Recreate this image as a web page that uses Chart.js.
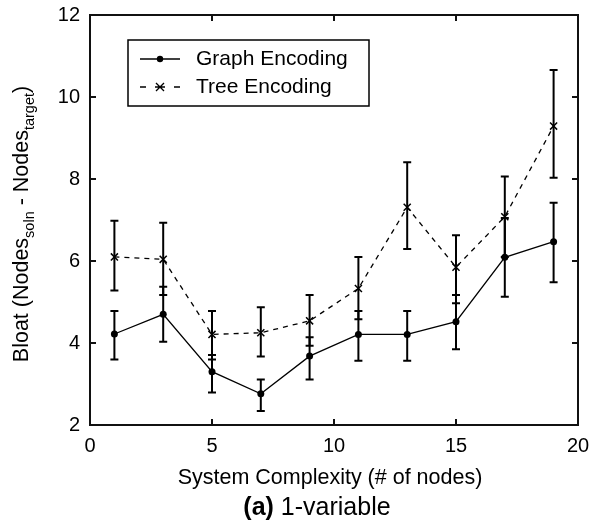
<!DOCTYPE html>
<html>
<head>
<meta charset="utf-8">
<script src="https://cdn.jsdelivr.net/npm/chart.js@4"></script>
<style>
html,body{margin:0;padding:0;background:#fff;}
#wrap{width:589px;height:527px;}
</style>
</head>
<body>
<div id="wrap"><canvas id="c" width="589" height="527"></canvas></div>
<script>
const complexity = [1, 3, 5, 7, 9, 11, 13, 15, 17, 19];
const graphMean = [4.22, 4.70, 3.30, 2.76, 3.68, 4.21, 4.21, 4.52, 6.09, 6.47];
const graphLow  = [3.60, 4.03, 2.79, 2.34, 3.11, 3.57, 3.57, 3.85, 5.13, 5.48];
const graphHigh = [4.78, 5.37, 3.71, 3.11, 4.14, 4.78, 4.78, 5.17, 7.05, 7.42];
const treeMean  = [6.10, 6.04, 4.21, 4.25, 4.54, 5.33, 7.31, 5.85, 7.08, 9.29];
const treeLow   = [5.28, 5.17, 3.60, 3.67, 3.93, 4.58, 6.29, 4.97, 6.10, 8.03];
const treeHigh  = [6.98, 6.93, 4.78, 4.87, 5.17, 6.10, 8.41, 6.63, 8.06, 10.66];
const xTicks = [0, 5, 10, 15, 20];
const yTicks = [2, 4, 6, 8, 10, 12];
const seriesNames = ['Graph Encoding', 'Tree Encoding'];
const xTitle = 'System Complexity (# of nodes)';
const captionBold = '(a)';
const captionRest = ' 1-variable';

const FONT = '"Liberation Sans", Arial, Helvetica, sans-serif';

const toPts = (ys) => complexity.map((x, i) => ({x: x, y: ys[i]}));

const deco = {
  id: 'deco',
  beforeDatasetsDraw(chart) {
    const ctx = chart.ctx, xs = chart.scales.x, ys = chart.scales.y;
    ctx.save();
    ctx.strokeStyle = '#000';
    ctx.lineWidth = 2;
    const cap = 4;
    [[graphLow, graphHigh], [treeLow, treeHigh]].forEach(([lo, hi]) => {
      complexity.forEach((x, i) => {
        const px = xs.getPixelForValue(x);
        const y1 = ys.getPixelForValue(lo[i]);
        const y2 = ys.getPixelForValue(hi[i]);
        ctx.beginPath();
        ctx.moveTo(px, y1); ctx.lineTo(px, y2);
        ctx.moveTo(px - cap, y1); ctx.lineTo(px + cap, y1);
        ctx.moveTo(px - cap, y2); ctx.lineTo(px + cap, y2);
        ctx.stroke();
      });
    });
    ctx.restore();
  },
  afterDraw(chart) {
    const ctx = chart.ctx, xs = chart.scales.x, ys = chart.scales.y;
    const a = chart.chartArea;
    ctx.save();
    // box
    ctx.strokeStyle = '#111';
    ctx.lineWidth = 2;
    ctx.strokeRect(a.left, a.top, a.right - a.left, a.bottom - a.top);
    // inward ticks
    const tl = 6;
    ctx.beginPath();
    xTicks.forEach(v => {
      const p = xs.getPixelForValue(v);
      ctx.moveTo(p, a.bottom); ctx.lineTo(p, a.bottom - tl);
      ctx.moveTo(p, a.top); ctx.lineTo(p, a.top + tl);
    });
    yTicks.forEach(v => {
      const p = ys.getPixelForValue(v);
      ctx.moveTo(a.left, p); ctx.lineTo(a.left + tl, p);
      ctx.moveTo(a.right, p); ctx.lineTo(a.right - tl, p);
    });
    ctx.stroke();

    // legend
    const lx = 128, ly = 40, lw = 241, lh = 66;
    ctx.fillStyle = '#fff';
    ctx.fillRect(lx, ly, lw, lh);
    ctx.lineWidth = 1.5;
    ctx.strokeStyle = '#000';
    ctx.strokeRect(lx, ly, lw, lh);
    const rows = [ly + 19, ly + 47];
    ctx.lineWidth = 1.3;
    ctx.beginPath(); ctx.moveTo(140, rows[0]); ctx.lineTo(180, rows[0]); ctx.stroke();
    ctx.fillStyle = '#000';
    ctx.beginPath(); ctx.arc(160, rows[0], 3.2, 0, Math.PI * 2); ctx.fill();
    ctx.beginPath();
    ctx.moveTo(140, rows[1]); ctx.lineTo(146, rows[1]);
    ctx.moveTo(174, rows[1]); ctx.lineTo(180, rows[1]);
    ctx.stroke();
    ctx.beginPath();
    ctx.moveTo(156, rows[1] - 4); ctx.lineTo(164, rows[1] + 4);
    ctx.moveTo(156, rows[1] + 4); ctx.lineTo(164, rows[1] - 4);
    ctx.moveTo(155, rows[1]); ctx.lineTo(165, rows[1]);
    ctx.stroke();
    ctx.font = '21px ' + FONT;
    ctx.textBaseline = 'middle';
    ctx.textAlign = 'left';
    ctx.fillStyle = '#000';
    ctx.fillText(seriesNames[0], 196, rows[0]);
    ctx.fillText(seriesNames[1], 196, rows[1]);

    // x title
    ctx.textAlign = 'center';
    ctx.font = '21.5px ' + FONT;
    ctx.fillText(xTitle, 330, 478);

    // caption
    const capSize = 25;
    ctx.font = 'bold ' + capSize + 'px ' + FONT;
    const wb = ctx.measureText(captionBold).width;
    ctx.font = capSize + 'px ' + FONT;
    const wr = ctx.measureText(captionRest).width;
    const cx0 = 317 - (wb + wr) / 2;
    ctx.textAlign = 'left';
    ctx.font = 'bold ' + capSize + 'px ' + FONT;
    ctx.fillText(captionBold, cx0, 508);
    ctx.font = capSize + 'px ' + FONT;
    ctx.fillText(captionRest, cx0 + wb, 508);

    // y title with subscripts
    const parts = [
      ['Bloat (Nodes', false], ['soln', true], [' - Nodes', false], ['target', true], [')', false]
    ];
    const mainF = '21.5px ' + FONT, subF = '14.5px ' + FONT;
    let total = 0;
    parts.forEach(([t, s]) => { ctx.font = s ? subF : mainF; total += ctx.measureText(t).width; });
    ctx.translate(22, 224);
    ctx.rotate(-Math.PI / 2);
    let cx = -total / 2;
    ctx.textBaseline = 'middle';
    parts.forEach(([t, s]) => {
      ctx.font = s ? subF : mainF;
      ctx.fillText(t, cx, s ? 8 : 0);
      cx += ctx.measureText(t).width;
    });
    ctx.restore();
  }
};

new Chart(document.getElementById('c'), {
  type: 'line',
  data: {
    datasets: [
      {
        label: seriesNames[0],
        data: toPts(graphMean),
        borderColor: '#000',
        backgroundColor: '#000',
        borderWidth: 1.3,
        pointStyle: 'circle',
        pointRadius: 3.5,
        pointBorderWidth: 0,
        tension: 0
      },
      {
        label: seriesNames[1],
        data: toPts(treeMean),
        borderColor: '#000',
        backgroundColor: '#000',
        borderWidth: 1.3,
        borderDash: [5, 5],
        pointStyle: 'crossRot',
        pointRadius: 5,
        pointBorderWidth: 1.5,
        tension: 0
      }
    ]
  },
  options: {
    responsive: false,
    animation: false,
    devicePixelRatio: 1,
    layout: { padding: { left: 0, right: 11, top: 15, bottom: 0 } },
    plugins: { legend: { display: false }, tooltip: { enabled: false } },
    scales: {
      x: {
        type: 'linear', min: 0, max: 20,
        afterBuildTicks: (s) => { s.ticks = xTicks.map(v => ({value: v})); },
        afterFit: (s) => { s.height = 102; s.paddingLeft = 0; s.paddingRight = 0; },
        grid: { display: false, drawTicks: false },
        border: { display: false },
        ticks: { color: '#000', padding: 9, font: { family: FONT, size: 20 }, maxRotation: 0 }
      },
      y: {
        type: 'linear', min: 2, max: 12,
        afterBuildTicks: (s) => { s.ticks = yTicks.map(v => ({value: v})); },
        afterFit: (s) => { s.width = 90; s.paddingTop = 0; s.paddingBottom = 0; },
        grid: { display: false, drawTicks: false },
        border: { display: false },
        ticks: { color: '#000', padding: 10, font: { family: FONT, size: 20 } }
      }
    }
  },
  plugins: [deco]
});
</script>
</body>
</html>
